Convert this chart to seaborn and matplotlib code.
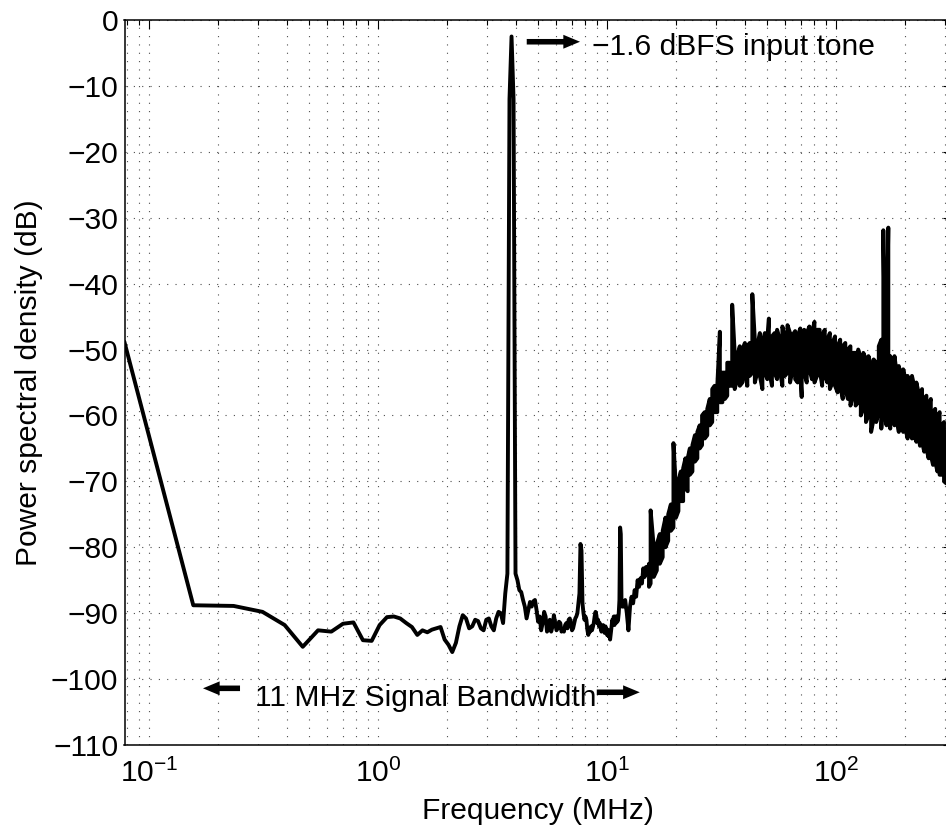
import numpy as np
import pandas as pd
import matplotlib
matplotlib.use("Agg")
import matplotlib.pyplot as plt
import seaborn as sns
from matplotlib.ticker import LogLocator, NullFormatter

sns.set_theme(style="white")
plt.rcParams["font.family"] = ["Liberation Sans", "DejaVu Sans"]
plt.rcParams["mathtext.fontset"] = "custom"
plt.rcParams["mathtext.rm"] = "Liberation Sans"
plt.rcParams["mathtext.it"] = "Liberation Sans:italic"
plt.rcParams["mathtext.bf"] = "Liberation Sans:bold"
for key in ("text.color", "axes.labelcolor", "xtick.color", "ytick.color", "axes.edgecolor"):
    plt.rcParams[key] = "black"

# ---- spectrum: in-band bins (MHz, dB) ----
inband_freq = [
    0.078, 0.156, 0.234, 0.313, 0.391, 0.469, 0.547, 0.625, 0.703, 0.781,
    0.859, 0.938, 1.016, 1.094, 1.172, 1.250, 1.328, 1.406, 1.484, 1.563,
    1.641, 1.719, 1.797, 1.875, 1.953, 2.031, 2.109, 2.188, 2.266, 2.344,
    2.422, 2.500, 2.578, 2.656, 2.734, 2.813, 2.891, 2.969, 3.047, 3.125,
    3.203, 3.281, 3.359, 3.438, 3.516, 3.594, 3.672, 3.750, 3.828, 3.906,
    3.984, 4.063, 4.141, 4.219, 4.297, 4.375, 4.453, 4.531, 4.609, 4.688,
    4.766, 4.844, 4.922, 5.000, 5.078, 5.156, 5.234, 5.313, 5.391, 5.469,
    5.547, 5.625, 5.703, 5.781, 5.859, 5.938, 6.016, 6.094, 6.172, 6.250,
    6.328, 6.406, 6.484, 6.563, 6.641, 6.719, 6.797, 6.875, 6.953, 7.031,
    7.109, 7.188, 7.266, 7.344, 7.422, 7.500, 7.578, 7.656, 7.734, 7.813,
    7.891, 7.969, 8.047, 8.125, 8.203, 8.281, 8.359, 8.438, 8.516, 8.594,
    8.672, 8.750, 8.828, 8.906, 8.984, 9.063, 9.141, 9.219, 9.297, 9.375,
    9.453, 9.531, 9.609, 9.688, 9.766, 9.844, 9.922, 10.000, 10.078, 10.156,
    10.234, 10.313, 10.391, 10.469, 10.547, 10.625, 10.703, 10.781, 10.859, 10.938,
    11.016, 11.094, 11.172, 11.250, 11.328, 11.406, 11.484, 11.563, 11.641, 11.8,
    12.0, 12.2, 12.4, 12.6, 12.8, 13.0, 13.2, 13.4, 13.6, 13.8,
    14.0, 14.2, 14.4, 14.6, 14.8, 15.0,
]
inband_db = [
    -48.8, -88.8, -88.9, -89.8, -91.8, -95.1, -92.6, -92.8, -91.6, -91.4,
    -94.1, -94.2, -91.8, -90.6, -90.5, -90.8, -91.5, -92.1, -93.3, -92.6,
    -92.9, -92.5, -92.3, -92.1, -94.0, -94.8, -95.9, -94.5, -92.0, -90.3,
    -90.8, -92.3, -92.0, -91.0, -91.2, -92.3, -92.6, -91.0, -90.8, -92.0,
    -92.6, -90.8, -89.8, -90.0, -91.5, -87.0, -84.0, -12.0, -2.5, -12.0,
    -84.0, -85.0, -86.5, -86.8, -88.0, -89.0, -90.8, -89.5, -88.3, -89.0,
    -88.2, -88.0, -89.5, -91.3, -90.5, -92.6, -91.5, -89.8, -90.5, -92.8,
    -92.3, -91.0, -92.8, -92.0, -90.3, -91.5, -92.6, -92.3, -91.3, -91.5,
    -92.8, -92.5, -92.8, -91.8, -91.5, -92.3, -91.0, -90.8, -91.5, -92.6,
    -92.3, -91.5, -90.8, -90.5, -90.0, -88.5, -87.0, -79.5, -80.5, -88.5,
    -90.0, -91.0, -90.5, -91.0, -92.5, -93.3, -92.6, -92.8, -92.0, -92.6,
    -92.1, -91.5, -90.5, -89.8, -90.3, -91.5, -91.0, -92.0, -91.5, -92.3,
    -92.8, -92.3, -91.8, -92.6, -93.0, -92.0, -92.6, -93.3, -92.5, -93.5,
    -93.3, -94.0, -93.0, -92.0, -91.0, -91.5, -90.5, -91.8, -90.5, -91.5,
    -90.5, -91.3, -91.0, -90.0, -88.0, -77.0, -78.0, -88.0, -89.0, -89.0,
    -88.0, -90.0, -92.6, -89.0, -87.5, -88.5, -86.5, -87.5, -85.0, -86.0,
    -84.7, -85.5, -83.2, -84.5, -83.0, -84.0,
]

# ---- shaped quantisation noise above the band: per-frequency max / min (MHz, dB) ----
noise_freq = [
    15.25, 15.5, 16.0, 16.5, 17.0, 17.5, 18.0, 18.5, 19.0, 19.5,
    20.0, 20.5, 21.0, 21.5, 22.0, 22.5, 23.0, 23.6, 24.2, 24.8,
    25.4, 26.0, 26.7, 27.4, 28.1, 28.8, 29.5, 30.3, 31.1, 31.9,
    32.7, 33.5, 34.3, 35.2, 36.1, 37.0, 38.0, 39.0, 40.0, 41.0,
    42.0, 43.1, 44.2, 45.3, 46.5, 47.7, 48.9, 50.1, 50.9, 52.5,
    53.9, 55.3, 56.8, 58.3, 59.8, 61.4, 63.0, 64.6, 66.3, 68.0,
    69.8, 70.8, 72.6, 74.5, 76.5, 78.5, 80.5, 82.6, 84.8, 87.0,
    89.3, 91.6, 94.0, 96.5, 99.0, 101.6, 104.3, 107.0, 109.8, 112.7,
    115.6, 118.7, 121.8, 125.0, 128.3, 131.6, 135.1, 138.6, 142.3, 146.0,
    149.8, 153.7, 157.7, 160.9, 163.5, 166.2, 169.2, 172.5, 176.2, 180.0,
    184.0, 188.0, 192.2, 196.5, 200.9, 205.4, 210.0, 214.6, 219.4, 224.3,
    229.3, 232.6, 237.5, 242.8, 248.2, 253.7, 259.4, 265.2, 271.1, 277.2,
    283.4, 289.7, 296.2, 302.8, 310.0,
]
noise_max = [
    -82.5, -74.4, -80.0, -79.5, -78.0, -77.5, -75.5, -75.0, -73.5, -64.2,
    -71.0, -70.0, -68.5, -68.0, -66.5, -66.5, -65.0, -64.5, -63.0, -62.5,
    -61.5, -60.0, -59.5, -59.0, -57.5, -56.0, -55.5, -55.5, -47.3, -53.5,
    -53.5, -52.0, -52.0, -43.2, -50.5, -51.0, -49.5, -50.0, -49.0, -49.5,
    -49.0, -41.6, -48.5, -49.5, -47.5, -49.0, -47.5, -48.5, -45.3, -48.0,
    -47.5, -47.0, -48.5, -46.5, -48.0, -46.3, -47.5, -47.8, -47.2, -48.0,
    -46.8, -49.0, -47.0, -47.5, -46.5, -47.5, -45.8, -47.0, -47.0, -47.8,
    -47.0, -48.5, -47.5, -49.0, -48.0, -49.5, -48.5, -49.5, -49.0, -50.0,
    -49.5, -50.5, -50.5, -50.0, -51.5, -50.5, -51.5, -51.0, -52.5, -51.5,
    -52.0, -49.5, -48.5, -31.9, -50.0, -49.0, -31.5, -51.0, -52.5, -51.0,
    -53.5, -52.5, -54.0, -53.0, -54.5, -54.0, -55.5, -54.0, -55.5, -55.0,
    -56.5, -57.0, -56.0, -57.5, -57.0, -58.5, -57.5, -59.5, -59.0, -60.5,
    -59.5, -61.5, -61.0, -62.5, -63.0,
]
noise_min = [
    -86.0, -85.5, -84.5, -83.5, -82.5, -81.5, -80.0, -79.0, -77.5, -77.0,
    -75.5, -74.5, -73.0, -73.0, -71.0, -71.5, -69.0, -68.5, -67.0, -66.5,
    -65.0, -64.5, -63.5, -63.0, -61.5, -61.0, -59.5, -59.5, -58.0, -58.0,
    -57.5, -57.0, -55.5, -55.5, -56.0, -54.5, -55.5, -55.0, -53.5, -55.5,
    -54.0, -53.5, -55.0, -53.5, -54.0, -56.0, -53.5, -54.5, -53.0, -55.5,
    -53.5, -54.5, -53.0, -55.5, -54.0, -53.5, -55.0, -53.0, -54.5, -55.0,
    -53.5, -57.2, -53.5, -55.0, -53.0, -54.5, -55.0, -54.0, -53.0, -55.5,
    -54.0, -55.0, -56.0, -55.0, -55.5, -56.5, -55.5, -57.5, -56.0, -57.5,
    -58.5, -57.0, -58.5, -58.0, -60.0, -59.0, -61.0, -60.0, -62.5, -60.5,
    -61.0, -59.5, -62.0, -56.0, -60.0, -61.5, -58.0, -62.0, -60.0, -61.5,
    -60.5, -62.5, -61.0, -62.5, -62.0, -63.5, -62.0, -63.5, -63.0, -64.0,
    -63.0, -64.6, -64.0, -65.5, -65.0, -66.5, -66.0, -67.5, -67.0, -68.5,
    -69.0, -69.0, -70.0, -70.3, -71.0,
]

x_ticks = [0.1, 1, 10, 100]
y_ticks = list(range(-110, 1, 10))

# The noise floor is traced as vertical max/min strokes joined end to end.
trace_f, trace_db = list(inband_freq), list(inband_db)
for i, (f, hi, lo) in enumerate(zip(noise_freq, noise_max, noise_min)):
    pair = (hi, lo) if i % 2 == 0 else (lo, hi)
    trace_f += [f, f]
    trace_db += list(pair)

spectrum = pd.DataFrame({
    "Frequency (MHz)": trace_f,
    "Power spectral density (dB)": trace_db,
})

fig = plt.figure(figsize=(9.46, 8.31), dpi=100)
ax = fig.add_axes([124.5 / 946, 86 / 831, 827.2 / 946, 725 / 831])
ax.set_xscale("log")

sns.lineplot(data=spectrum, x="Frequency (MHz)", y="Power spectral density (dB)",
             sort=False, estimator=None, color="black", lw=2.8, ax=ax)

ax.set_xlim(0.078125, 320)
ax.set_ylim(-110, 0)

ax.xaxis.set_major_locator(LogLocator(base=10, numticks=12))
ax.xaxis.set_minor_locator(LogLocator(base=10, subs=np.arange(2, 10), numticks=100))
ax.xaxis.set_minor_formatter(NullFormatter())
ax.set_xticks(x_ticks)
ax.set_yticks(y_ticks)

fs = 21.6
ax.tick_params(axis="both", which="both", direction="in", top=True, right=True,
               colors="black", labelsize=fs)
ax.tick_params(which="major", length=6.5, width=0.8)
ax.tick_params(which="minor", length=3.6, width=0.8)
ax.tick_params(axis="x", which="major", pad=10)
ax.tick_params(axis="y", which="major", pad=4.5)

grid_kw = dict(color="0.3", lw=0.8, linestyle=(0, (1, 6.5)))
ax.grid(which="major", axis="both", **grid_kw)
ax.grid(which="minor", axis="x", **grid_kw)
ax.set_axisbelow(True)

for side in ax.spines.values():
    side.set_color("black")
    side.set_linewidth(1.1)

ax.set_xlabel("Frequency (MHz)", fontsize=fs)
ax.set_ylabel("Power spectral density (dB)", fontsize=fs)
ax.xaxis.set_label_coords(0.5, -0.072)
ax.yaxis.set_label_coords(-0.098, 0.5)

# annotations
arrow_kw = dict(arrowstyle="simple,head_length=0.6,head_width=0.5,tail_width=0.2",
                fc="black", ec="none", mutation_scale=20, shrinkA=0, shrinkB=0)
ax.annotate("", xy=(7.62, -3.3), xytext=(4.46, -3.3), arrowprops=arrow_kw)
ax.text(8.57, -5.3, "\u22121.6 dBFS input tone", fontsize=fs, ha="left", va="baseline")

ax.annotate("", xy=(0.172, -101.4), xytext=(0.2496, -101.4), arrowprops=arrow_kw)
ax.annotate("", xy=(13.9, -102.0), xytext=(9.02, -102.0), arrowprops=arrow_kw)
ax.text(0.290, -104.1, "11 MHz Signal Bandwidth", fontsize=fs, ha="left", va="baseline")

fig.savefig("out.png", dpi=100)
